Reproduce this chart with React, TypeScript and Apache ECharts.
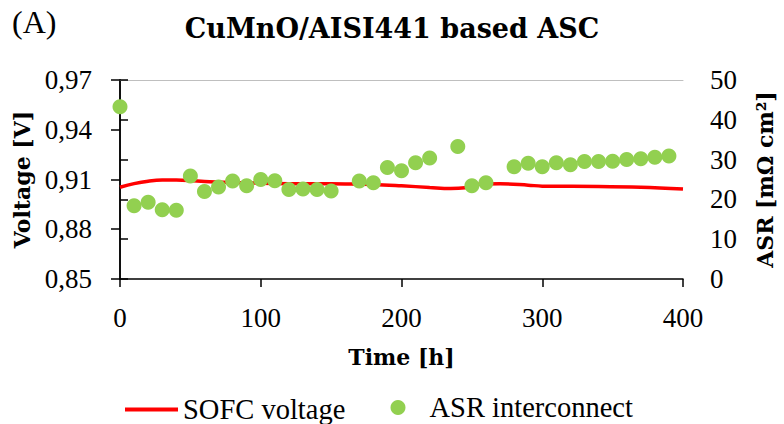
import React, { useEffect, useRef } from "react";
import * as echarts from "echarts";

const asrTimes = [0, 10, 20, 30, 40, 50, 60, 70, 80, 90, 100, 110, 120, 130, 140, 150, 170, 180, 190, 200, 210, 220, 240, 250, 260, 280, 290, 300, 310, 320, 330, 340, 350, 360, 370, 380, 390];
const asrValues = [43.3, 18.4, 19.3, 17.4, 17.3, 25.9, 22.0, 23.1, 24.6, 23.4, 25.0, 24.7, 22.5, 22.6, 22.5, 22.1, 24.6, 24.2, 28.0, 27.2, 29.2, 30.4, 33.3, 23.4, 24.2, 28.2, 29.1, 28.2, 29.2, 28.7, 29.5, 29.5, 29.6, 30.0, 30.2, 30.6, 30.9];

const voltTimes = [0, 10, 20, 30, 40, 50, 60, 80, 100, 120, 140, 160, 180, 200, 220, 235, 245, 255, 270, 290, 300, 340, 370, 400];
const voltValues = [0.9053, 0.9075, 0.909, 0.9097, 0.9097, 0.9094, 0.9088, 0.9082, 0.9078, 0.9075, 0.9074, 0.9073, 0.907, 0.9062, 0.9052, 0.9046, 0.905, 0.9072, 0.9074, 0.9066, 0.906, 0.9058, 0.9053, 0.9042];

const voltTicks = [0.85, 0.88, 0.91, 0.94, 0.97];

const SERIF = "'Liberation Serif', 'Times New Roman', serif";
const BOLD = "'DejaVu Serif', serif";

export default function App() {
  const ref = useRef<HTMLDivElement>(null);
  useEffect(() => {
    if (!ref.current) return;
    const chart = echarts.init(ref.current, null, { renderer: "svg" });
    const axisLine = { lineStyle: { color: "#000", width: 1.5 } };
    const tickStyle = { color: "#000", width: 1.5 };
    const nameStyle = { fontFamily: BOLD, fontSize: 22, fontWeight: "bold", color: "#000" };
    const labelStyle = { fontFamily: SERIF, fontSize: 27, color: "#000" };
    chart.setOption({
      animation: false,
      backgroundColor: "#fff",
      textStyle: { fontFamily: SERIF, color: "#000" },
      title: [
        { text: "CuMnO/AISI441 based ASC", left: "center", top: 10, textStyle: { fontFamily: BOLD, fontSize: 27, fontWeight: "bold", color: "#000" } },
        { text: "(A)", left: 7, top: 1, textStyle: { fontFamily: SERIF, fontSize: 32, fontWeight: "normal", color: "#000" } },
      ],
      grid: { left: 120, right: 96, top: 80, bottom: 145, containLabel: false },
      legend: [
        {
          left: 125, top: 395, itemWidth: 53, itemHeight: 4, itemGap: 4,
          data: [{ name: "SOFC voltage", icon: "rect", itemStyle: { color: "#FF0000" } }],
          textStyle: { fontFamily: SERIF, fontSize: 28.5, color: "#000" },
          padding: 0,
        },
        {
          left: 390.5, top: 393, itemWidth: 53, itemHeight: 15, itemGap: 4,
          data: [{ name: "ASR interconnect", icon: "circle" }],
          textStyle: { fontFamily: SERIF, fontSize: 28.5, color: "#000" },
          padding: 0,
        },
      ],
      xAxis: [
        {
          type: "value", min: 0, max: 400, interval: 100,
          name: "Time [h]", nameLocation: "middle", nameGap: 67,
          nameTextStyle: nameStyle,
          axisLine, axisTick: { length: 8, lineStyle: tickStyle },
          axisLabel: { ...labelStyle, margin: 25 },
          splitLine: { show: false },
        },
        {
          type: "value", min: 0, max: 400, position: "top",
          axisLine: { lineStyle: { color: "#bfbfbf", width: 1 } },
          axisTick: { show: false }, axisLabel: { show: false }, splitLine: { show: false },
        },
      ],
      yAxis: [
        {
          type: "value", min: 0.85, max: 0.97,
          name: "Voltage [V]", nameLocation: "middle", nameGap: 87, nameRotate: 90,
          nameTextStyle: nameStyle,
          axisLine: { show: true, ...axisLine },
          axisTick: { show: true, length: 9, customValues: voltTicks, lineStyle: tickStyle },
          axisLabel: {
            ...labelStyle, customValues: voltTicks, margin: 28,
            formatter: (v: number) => v.toFixed(2).replace(".", ","),
          },
          splitLine: { show: false },
        },
        {
          type: "value", min: 0, max: 50, interval: 10, position: "right",
          name: "ASR [mΩ cm²]", nameLocation: "middle", nameGap: 71, nameRotate: 90,
          nameTextStyle: nameStyle,
          axisLine: { show: true, ...axisLine },
          axisTick: { show: true, length: 8, lineStyle: tickStyle },
          axisLabel: { ...labelStyle, margin: 27 },
          splitLine: { show: false },
        },
      ],
      series: [
        {
          name: "SOFC voltage", type: "line", yAxisIndex: 0, smooth: 0.4, showSymbol: false, symbol: "none",
          lineStyle: { color: "#FF0000", width: 3.5 }, itemStyle: { color: "#FF0000" },
          data: voltTimes.map((t, i) => [t, voltValues[i]]),
          z: 2,
        },
        {
          name: "ASR interconnect", type: "scatter", yAxisIndex: 1, symbolSize: 15,
          itemStyle: { color: "#92D050", opacity: 1 },
          data: asrTimes.map((t, i) => [t, asrValues[i]]),
          z: 3,
        },
      ],
    });
    return () => chart.dispose();
  }, []);
  return <div ref={ref} style={{ width: 784, height: 424, position: "absolute", left: 0, top: 0 }} />;
}
